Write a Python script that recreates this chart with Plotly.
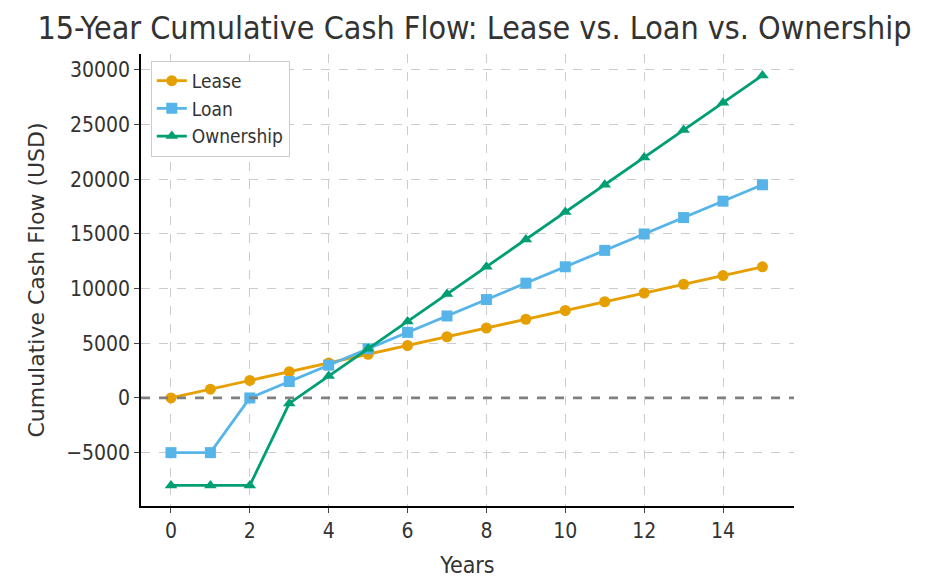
import plotly.graph_objects as go

years = list(range(16))
lease = [0, 800, 1600, 2400, 3200, 4000, 4800, 5600, 6400, 7200, 8000, 8800, 9600, 10400, 11200, 12000]
loan = [-5000, -5000, 0, 1500, 3000, 4500, 6000, 7500, 9000, 10500, 12000, 13500, 15000, 16500, 18000, 19500]
ownership = [-8000, -8000, -8000, -500, 2000, 4500, 7000, 9500, 12000, 14500, 17000, 19500, 22000, 24500, 27000, 29500]

font = "Liberation Sans Narrow, DejaVu Sans Condensed, Roboto, sans-serif"
fig = go.Figure()
for name, ys, col, sym in [("Lease", lease, "#E69F00", "circle"),
                           ("Loan", loan, "#56B4E9", "square"),
                           ("Ownership", ownership, "#009E73", "triangle-up")]:
    fig.add_trace(go.Scatter(x=years, y=ys, name=name, mode="lines+markers",
                             line=dict(color=col, width=2.8),
                             marker=dict(color=col, symbol=sym, size=11)))
fig.add_hline(y=0, line=dict(color="gray", width=2.8, dash="dash"))

fig.update_layout(
    width=933, height=585, plot_bgcolor="white", paper_bgcolor="white",
    margin=dict(l=133, r=147, t=46, b=87),
    font=dict(family=font, size=21, color="#333"),
    title=dict(text="15-Year Cumulative Cash Flow: Lease vs. Loan vs. Ownership",
               x=0.5, xanchor="center", y=0.985, yanchor="top", font=dict(size=32)),
    legend=dict(x=0.015, y=0.985, xanchor="left", yanchor="top", bgcolor="white",
                bordercolor="#ccc", borderwidth=1, font=dict(size=19)),
    xaxis=dict(title=dict(text="Years", font=dict(size=23)), range=[-0.76, 15.8],
               tickvals=list(range(0, 16, 2)), showgrid=True, gridcolor="#ccc",
               griddash="dash", showline=True, linecolor="black", linewidth=1.5,
               ticks="outside", zeroline=False),
    yaxis=dict(title=dict(text="Cumulative Cash Flow (USD)", font=dict(size=22, family="DejaVu Sans")),
               range=[-9880, 31460], tickvals=list(range(-5000, 30001, 5000)),
               showgrid=True, gridcolor="#ccc", griddash="dash", showline=True,
               linecolor="black", linewidth=1.5, ticks="outside", zeroline=False,
               tickformat="d"),
)
fig.write_html("out.html")
